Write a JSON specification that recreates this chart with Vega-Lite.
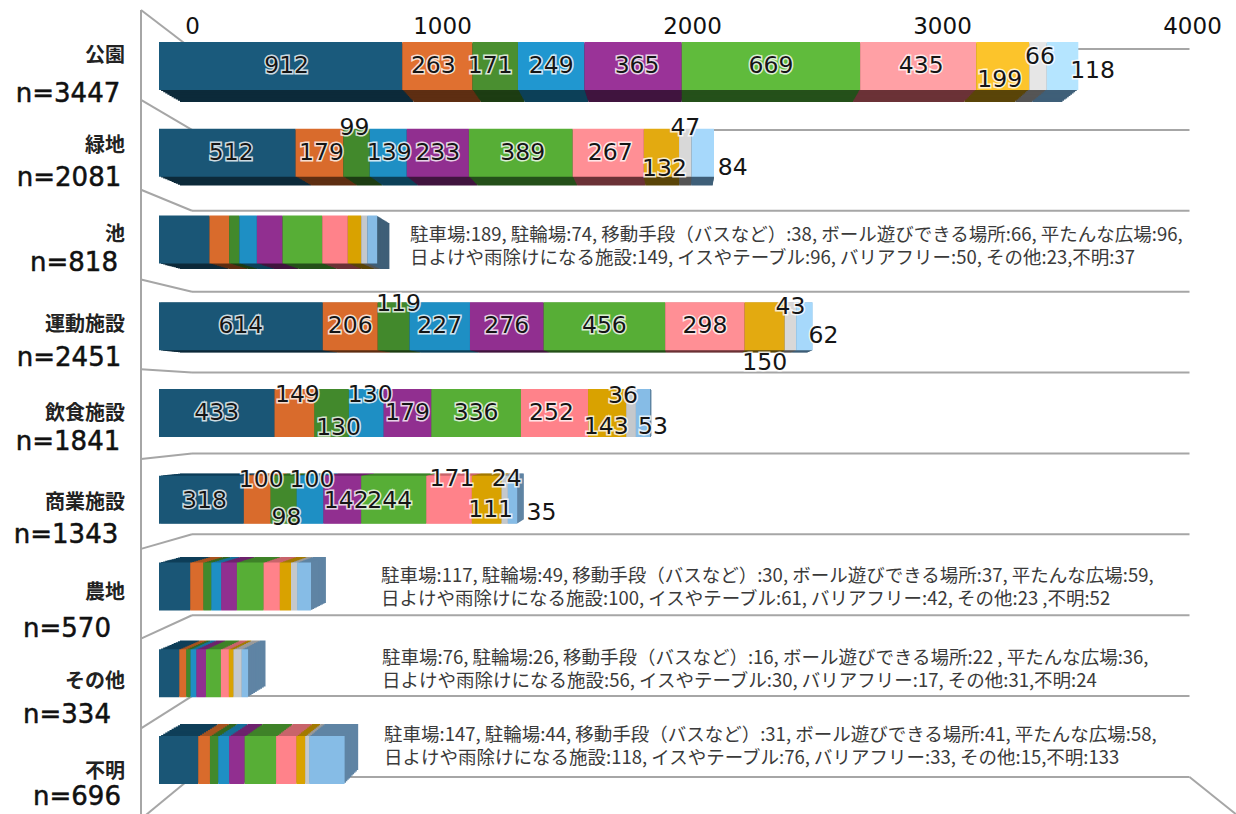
{"$schema":"https://vega.github.io/schema/vega-lite/v6.json","width":1236,"height":814,"autosize":"none","padding":0,"background":"white","view":{"stroke":null},
"datasets":{
"bars":[
{"r":0,"place":"公園","k":0,"item":"駐車場","value":912},{"r":0,"place":"公園","k":1,"item":"駐輪場","value":263},{"r":0,"place":"公園","k":2,"item":"移動手段（バスなど）","value":171},{"r":0,"place":"公園","k":3,"item":"ボール遊びできる場所","value":249},{"r":0,"place":"公園","k":4,"item":"平たんな広場","value":365},{"r":0,"place":"公園","k":5,"item":"日よけや雨除けになる施設","value":669},{"r":0,"place":"公園","k":6,"item":"イスやテーブル","value":435},{"r":0,"place":"公園","k":7,"item":"バリアフリー","value":199},{"r":0,"place":"公園","k":8,"item":"その他","value":66},{"r":0,"place":"公園","k":9,"item":"不明","value":118},
{"r":1,"place":"緑地","k":0,"item":"駐車場","value":512},{"r":1,"place":"緑地","k":1,"item":"駐輪場","value":179},{"r":1,"place":"緑地","k":2,"item":"移動手段（バスなど）","value":99},{"r":1,"place":"緑地","k":3,"item":"ボール遊びできる場所","value":139},{"r":1,"place":"緑地","k":4,"item":"平たんな広場","value":233},{"r":1,"place":"緑地","k":5,"item":"日よけや雨除けになる施設","value":389},{"r":1,"place":"緑地","k":6,"item":"イスやテーブル","value":267},{"r":1,"place":"緑地","k":7,"item":"バリアフリー","value":132},{"r":1,"place":"緑地","k":8,"item":"その他","value":47},{"r":1,"place":"緑地","k":9,"item":"不明","value":84},
{"r":2,"place":"池","k":0,"item":"駐車場","value":189},{"r":2,"place":"池","k":1,"item":"駐輪場","value":74},{"r":2,"place":"池","k":2,"item":"移動手段（バスなど）","value":38},{"r":2,"place":"池","k":3,"item":"ボール遊びできる場所","value":66},{"r":2,"place":"池","k":4,"item":"平たんな広場","value":96},{"r":2,"place":"池","k":5,"item":"日よけや雨除けになる施設","value":149},{"r":2,"place":"池","k":6,"item":"イスやテーブル","value":96},{"r":2,"place":"池","k":7,"item":"バリアフリー","value":50},{"r":2,"place":"池","k":8,"item":"その他","value":23},{"r":2,"place":"池","k":9,"item":"不明","value":37},
{"r":3,"place":"運動施設","k":0,"item":"駐車場","value":614},{"r":3,"place":"運動施設","k":1,"item":"駐輪場","value":206},{"r":3,"place":"運動施設","k":2,"item":"移動手段（バスなど）","value":119},{"r":3,"place":"運動施設","k":3,"item":"ボール遊びできる場所","value":227},{"r":3,"place":"運動施設","k":4,"item":"平たんな広場","value":276},{"r":3,"place":"運動施設","k":5,"item":"日よけや雨除けになる施設","value":456},{"r":3,"place":"運動施設","k":6,"item":"イスやテーブル","value":298},{"r":3,"place":"運動施設","k":7,"item":"バリアフリー","value":150},{"r":3,"place":"運動施設","k":8,"item":"その他","value":43},{"r":3,"place":"運動施設","k":9,"item":"不明","value":62},
{"r":4,"place":"飲食施設","k":0,"item":"駐車場","value":433},{"r":4,"place":"飲食施設","k":1,"item":"駐輪場","value":149},{"r":4,"place":"飲食施設","k":2,"item":"移動手段（バスなど）","value":130},{"r":4,"place":"飲食施設","k":3,"item":"ボール遊びできる場所","value":130},{"r":4,"place":"飲食施設","k":4,"item":"平たんな広場","value":179},{"r":4,"place":"飲食施設","k":5,"item":"日よけや雨除けになる施設","value":336},{"r":4,"place":"飲食施設","k":6,"item":"イスやテーブル","value":252},{"r":4,"place":"飲食施設","k":7,"item":"バリアフリー","value":143},{"r":4,"place":"飲食施設","k":8,"item":"その他","value":36},{"r":4,"place":"飲食施設","k":9,"item":"不明","value":53},
{"r":5,"place":"商業施設","k":0,"item":"駐車場","value":318},{"r":5,"place":"商業施設","k":1,"item":"駐輪場","value":100},{"r":5,"place":"商業施設","k":2,"item":"移動手段（バスなど）","value":98},{"r":5,"place":"商業施設","k":3,"item":"ボール遊びできる場所","value":100},{"r":5,"place":"商業施設","k":4,"item":"平たんな広場","value":142},{"r":5,"place":"商業施設","k":5,"item":"日よけや雨除けになる施設","value":244},{"r":5,"place":"商業施設","k":6,"item":"イスやテーブル","value":171},{"r":5,"place":"商業施設","k":7,"item":"バリアフリー","value":111},{"r":5,"place":"商業施設","k":8,"item":"その他","value":24},{"r":5,"place":"商業施設","k":9,"item":"不明","value":35},
{"r":6,"place":"農地","k":0,"item":"駐車場","value":117},{"r":6,"place":"農地","k":1,"item":"駐輪場","value":49},{"r":6,"place":"農地","k":2,"item":"移動手段（バスなど）","value":30},{"r":6,"place":"農地","k":3,"item":"ボール遊びできる場所","value":37},{"r":6,"place":"農地","k":4,"item":"平たんな広場","value":59},{"r":6,"place":"農地","k":5,"item":"日よけや雨除けになる施設","value":100},{"r":6,"place":"農地","k":6,"item":"イスやテーブル","value":61},{"r":6,"place":"農地","k":7,"item":"バリアフリー","value":42},{"r":6,"place":"農地","k":8,"item":"その他","value":23},{"r":6,"place":"農地","k":9,"item":"不明","value":52},
{"r":7,"place":"その他","k":0,"item":"駐車場","value":76},{"r":7,"place":"その他","k":1,"item":"駐輪場","value":26},{"r":7,"place":"その他","k":2,"item":"移動手段（バスなど）","value":16},{"r":7,"place":"その他","k":3,"item":"ボール遊びできる場所","value":22},{"r":7,"place":"その他","k":4,"item":"平たんな広場","value":36},{"r":7,"place":"その他","k":5,"item":"日よけや雨除けになる施設","value":56},{"r":7,"place":"その他","k":6,"item":"イスやテーブル","value":30},{"r":7,"place":"その他","k":7,"item":"バリアフリー","value":17},{"r":7,"place":"その他","k":8,"item":"その他","value":31},{"r":7,"place":"その他","k":9,"item":"不明","value":24},
{"r":8,"place":"不明","k":0,"item":"駐車場","value":147},{"r":8,"place":"不明","k":1,"item":"駐輪場","value":44},{"r":8,"place":"不明","k":2,"item":"移動手段（バスなど）","value":31},{"r":8,"place":"不明","k":3,"item":"ボール遊びできる場所","value":41},{"r":8,"place":"不明","k":4,"item":"平たんな広場","value":58},{"r":8,"place":"不明","k":5,"item":"日よけや雨除けになる施設","value":118},{"r":8,"place":"不明","k":6,"item":"イスやテーブル","value":76},{"r":8,"place":"不明","k":7,"item":"バリアフリー","value":33},{"r":8,"place":"不明","k":8,"item":"その他","value":15},{"r":8,"place":"不明","k":9,"item":"不明","value":133}
],
"places":[{"r":0,"place":"公園","n":"n=3447"},{"r":1,"place":"緑地","n":"n=2081"},{"r":2,"place":"池","n":"n=818"},{"r":3,"place":"運動施設","n":"n=2451"},{"r":4,"place":"飲食施設","n":"n=1841"},{"r":5,"place":"商業施設","n":"n=1343"},{"r":6,"place":"農地","n":"n=570"},{"r":7,"place":"その他","n":"n=334"},{"r":8,"place":"不明","n":"n=696"}],
"grid":[{"level":0,"wall":-0.482},{"level":1,"wall":0.63},{"level":2,"wall":1.74},{"level":3,"wall":2.85},{"level":4,"wall":3.96},{"level":5,"wall":5.07},{"level":6,"wall":6.18},{"level":7,"wall":7.29},{"level":8,"wall":8.4},{"level":9,"wall":9.52}],
"notes":[
{"r":2,"note":"駐車場:189, 駐輪場:74, 移動手段（バスなど）:38, ボール遊びできる場所:66, 平たんな広場:96,\n日よけや雨除けになる施設:149, イスやテーブル:96, バリアフリー:50, その他:23,不明:37"},
{"r":6,"note":"駐車場:117, 駐輪場:49, 移動手段（バスなど）:30, ボール遊びできる場所:37, 平たんな広場:59,\n日よけや雨除けになる施設:100, イスやテーブル:61, バリアフリー:42, その他:23 ,不明:52"},
{"r":7,"note":"駐車場:76, 駐輪場:26, 移動手段（バスなど）:16, ボール遊びできる場所:22 , 平たんな広場:36,\n日よけや雨除けになる施設:56, イスやテーブル:30, バリアフリー:17, その他:31,不明:24"},
{"r":8,"note":"駐車場:147, 駐輪場:44, 移動手段（バスなど）:31, ボール遊びできる場所:41, 平たんな広場:58,\n日よけや雨除けになる施設:118, イスやテーブル:76, バリアフリー:33, その他:15,不明:133"}
]},
"resolve":{"scale":{"x":"independent","y":"independent","color":"independent"}},
"layer":[
{"data":{"name":"grid"},"mark":{"type":"rule","color":"#a6a6a6","strokeWidth":2},
 "encoding":{"x":{"datum":0,"type":"quantitative","scale":{"domain":[-768,4176],"range":[0,1236]},"axis":{"orient":"top","values":[0,1000,2000,3000,4000],"offset":-38,"ticks":false,"domain":false,"grid":false,"title":null,"labelPadding":0,"labelFontSize":23,"labelFont":"DejaVu Sans","labelColor":"#111","labelFlush":false,"labelBound":false,"labelOverlap":false,"format":"d"}},"x2":{"datum":3990},"y":{"field":"level","type":"quantitative","scale":{"domain":[0,9],"range":[49,777],"zero":false,"nice":false},"axis":null}}},
{"data":{"name":"grid"},"mark":{"type":"rule","color":"#a6a6a6","strokeWidth":2},
 "encoding":{"x":{"datum":0,"type":"quantitative","scale":{"domain":[-768,4176],"range":[0,1236]},"axis":null},"x2":{"datum":-204},"y":{"field":"level","type":"quantitative","scale":{"domain":[0,9],"range":[49,777],"zero":false,"nice":false},"axis":null},"y2":{"field":"wall"}}},
{"data":{"values":[{"a":-0.482,"b":9.52}]},"mark":{"type":"rule","color":"#a6a6a6","strokeWidth":2},
 "encoding":{"x":{"datum":-204,"type":"quantitative","scale":{"domain":[-768,4176],"range":[0,1236]},"axis":null},"y":{"field":"a","type":"quantitative","scale":{"domain":[0,9],"range":[49,777],"zero":false,"nice":false},"axis":null},"y2":{"field":"b"}}},
{"data":{"values":[{"a":9,"b":9.46}]},"mark":{"type":"rule","color":"#a6a6a6","strokeWidth":2},
 "encoding":{"x":{"datum":3990,"type":"quantitative","scale":{"domain":[-768,4176],"range":[0,1236]},"axis":null},"x2":{"datum":4176},"y":{"field":"a","type":"quantitative","scale":{"domain":[0,9],"range":[49,777],"zero":false,"nice":false},"axis":null},"y2":{"field":"b"}}},
{"data":{"name":"bars"},"transform":[{"filter":"datum.r<4"}],"resolve":{"scale":{"x":"independent","y":"independent"}},
 "encoding":{"order":{"field":"k"},"color":{"field":"k","type":"nominal","legend":null,"scale":{"range":["#0c2a3a","#5e2e12","#1d3d13","#0c4058","#40143f","#25501a","#6b3237","#5a4508","#555555","#3f5f78"]}}},
 "layer":[
 {"mark":{"type":"bar","height":46},"encoding":{"x":{"field":"value","type":"quantitative","stack":"zero","axis":null,"scale":{"domain":[0,4000],"range":[180,1204]}},"y":{"field":"r","type":"ordinal","axis":null,"scale":{"domain":[0,1,2,3,4,5,6,7,8],"range":[37.25,788.75],"paddingInner":0,"paddingOuter":0}}}},
 {"mark":{"type":"bar","height":46.2},"encoding":{"x":{"field":"value","type":"quantitative","stack":"zero","axis":null,"scale":{"domain":[0,4000],"range":[177.9,1206.2]}},"y":{"field":"r","type":"ordinal","axis":null,"scale":{"domain":[0,1,2,3,4,5,6,7,8],"range":[35.8,790.2],"paddingInner":0,"paddingOuter":0}}}},
 {"mark":{"type":"bar","height":46.4},"encoding":{"x":{"field":"value","type":"quantitative","stack":"zero","axis":null,"scale":{"domain":[0,4000],"range":[175.8,1208.4]}},"y":{"field":"r","type":"ordinal","axis":null,"scale":{"domain":[0,1,2,3,4,5,6,7,8],"range":[34.3,791.7],"paddingInner":0,"paddingOuter":0}}}},
 {"mark":{"type":"bar","height":46.6},"encoding":{"x":{"field":"value","type":"quantitative","stack":"zero","axis":null,"scale":{"domain":[0,4000],"range":[173.7,1210.5]}},"y":{"field":"r","type":"ordinal","axis":null,"scale":{"domain":[0,1,2,3,4,5,6,7,8],"range":[32.9,793.1],"paddingInner":0,"paddingOuter":0}}}},
 {"mark":{"type":"bar","height":46.8},"encoding":{"x":{"field":"value","type":"quantitative","stack":"zero","axis":null,"scale":{"domain":[0,4000],"range":[171.6,1212.7]}},"y":{"field":"r","type":"ordinal","axis":null,"scale":{"domain":[0,1,2,3,4,5,6,7,8],"range":[31.4,794.6],"paddingInner":0,"paddingOuter":0}}}},
 {"mark":{"type":"bar","height":47},"encoding":{"x":{"field":"value","type":"quantitative","stack":"zero","axis":null,"scale":{"domain":[0,4000],"range":[169.5,1214.9]}},"y":{"field":"r","type":"ordinal","axis":null,"scale":{"domain":[0,1,2,3,4,5,6,7,8],"range":[29.9,796.1],"paddingInner":0,"paddingOuter":0}}}},
 {"mark":{"type":"bar","height":47.2},"encoding":{"x":{"field":"value","type":"quantitative","stack":"zero","axis":null,"scale":{"domain":[0,4000],"range":[167.4,1217.1]}},"y":{"field":"r","type":"ordinal","axis":null,"scale":{"domain":[0,1,2,3,4,5,6,7,8],"range":[28.5,797.5],"paddingInner":0,"paddingOuter":0}}}},
 {"mark":{"type":"bar","height":47.4},"encoding":{"x":{"field":"value","type":"quantitative","stack":"zero","axis":null,"scale":{"domain":[0,4000],"range":[165.3,1219.3]}},"y":{"field":"r","type":"ordinal","axis":null,"scale":{"domain":[0,1,2,3,4,5,6,7,8],"range":[27,799],"paddingInner":0,"paddingOuter":0}}}},
 {"mark":{"type":"bar","height":47.6},"encoding":{"x":{"field":"value","type":"quantitative","stack":"zero","axis":null,"scale":{"domain":[0,4000],"range":[163.2,1221.4]}},"y":{"field":"r","type":"ordinal","axis":null,"scale":{"domain":[0,1,2,3,4,5,6,7,8],"range":[25.5,800.5],"paddingInner":0,"paddingOuter":0}}}},
 {"mark":{"type":"bar","height":47.8},"encoding":{"x":{"field":"value","type":"quantitative","stack":"zero","axis":null,"scale":{"domain":[0,4000],"range":[161.1,1223.6]}},"y":{"field":"r","type":"ordinal","axis":null,"scale":{"domain":[0,1,2,3,4,5,6,7,8],"range":[24,802],"paddingInner":0,"paddingOuter":0}}}}
 ]},
{"data":{"name":"bars"},"transform":[{"filter":"datum.r>=4"}],"resolve":{"scale":{"x":"independent","y":"independent"}},
 "encoding":{"order":{"field":"k"},"color":{"field":"k","type":"nominal","legend":null,"scale":{"range":["#0f3f58","#a8531f","#33681f","#16709a","#6d236d","#3f8228","#c8646b","#a37a00","#9a9a9a","#5f84a4"]}}},
 "layer":[
 {"mark":{"type":"bar","height":46},"encoding":{"x":{"field":"value","type":"quantitative","stack":"zero","axis":null,"scale":{"domain":[0,4000],"range":[180,1204]}},"y":{"field":"r","type":"ordinal","axis":null,"scale":{"domain":[0,1,2,3,4,5,6,7,8],"range":[37.25,788.75],"paddingInner":0,"paddingOuter":0}}}},
 {"mark":{"type":"bar","height":46.2},"encoding":{"x":{"field":"value","type":"quantitative","stack":"zero","axis":null,"scale":{"domain":[0,4000],"range":[177.9,1206.2]}},"y":{"field":"r","type":"ordinal","axis":null,"scale":{"domain":[0,1,2,3,4,5,6,7,8],"range":[35.8,790.2],"paddingInner":0,"paddingOuter":0}}}},
 {"mark":{"type":"bar","height":46.4},"encoding":{"x":{"field":"value","type":"quantitative","stack":"zero","axis":null,"scale":{"domain":[0,4000],"range":[175.8,1208.4]}},"y":{"field":"r","type":"ordinal","axis":null,"scale":{"domain":[0,1,2,3,4,5,6,7,8],"range":[34.3,791.7],"paddingInner":0,"paddingOuter":0}}}},
 {"mark":{"type":"bar","height":46.6},"encoding":{"x":{"field":"value","type":"quantitative","stack":"zero","axis":null,"scale":{"domain":[0,4000],"range":[173.7,1210.5]}},"y":{"field":"r","type":"ordinal","axis":null,"scale":{"domain":[0,1,2,3,4,5,6,7,8],"range":[32.9,793.1],"paddingInner":0,"paddingOuter":0}}}},
 {"mark":{"type":"bar","height":46.8},"encoding":{"x":{"field":"value","type":"quantitative","stack":"zero","axis":null,"scale":{"domain":[0,4000],"range":[171.6,1212.7]}},"y":{"field":"r","type":"ordinal","axis":null,"scale":{"domain":[0,1,2,3,4,5,6,7,8],"range":[31.4,794.6],"paddingInner":0,"paddingOuter":0}}}},
 {"mark":{"type":"bar","height":47},"encoding":{"x":{"field":"value","type":"quantitative","stack":"zero","axis":null,"scale":{"domain":[0,4000],"range":[169.5,1214.9]}},"y":{"field":"r","type":"ordinal","axis":null,"scale":{"domain":[0,1,2,3,4,5,6,7,8],"range":[29.9,796.1],"paddingInner":0,"paddingOuter":0}}}},
 {"mark":{"type":"bar","height":47.2},"encoding":{"x":{"field":"value","type":"quantitative","stack":"zero","axis":null,"scale":{"domain":[0,4000],"range":[167.4,1217.1]}},"y":{"field":"r","type":"ordinal","axis":null,"scale":{"domain":[0,1,2,3,4,5,6,7,8],"range":[28.5,797.5],"paddingInner":0,"paddingOuter":0}}}},
 {"mark":{"type":"bar","height":47.4},"encoding":{"x":{"field":"value","type":"quantitative","stack":"zero","axis":null,"scale":{"domain":[0,4000],"range":[165.3,1219.3]}},"y":{"field":"r","type":"ordinal","axis":null,"scale":{"domain":[0,1,2,3,4,5,6,7,8],"range":[27,799],"paddingInner":0,"paddingOuter":0}}}},
 {"mark":{"type":"bar","height":47.6},"encoding":{"x":{"field":"value","type":"quantitative","stack":"zero","axis":null,"scale":{"domain":[0,4000],"range":[163.2,1221.4]}},"y":{"field":"r","type":"ordinal","axis":null,"scale":{"domain":[0,1,2,3,4,5,6,7,8],"range":[25.5,800.5],"paddingInner":0,"paddingOuter":0}}}},
 {"mark":{"type":"bar","height":47.8},"encoding":{"x":{"field":"value","type":"quantitative","stack":"zero","axis":null,"scale":{"domain":[0,4000],"range":[161.1,1223.6]}},"y":{"field":"r","type":"ordinal","axis":null,"scale":{"domain":[0,1,2,3,4,5,6,7,8],"range":[24,802],"paddingInner":0,"paddingOuter":0}}}}
 ]},
{"data":{"name":"bars"},"transform":[{"filter":"datum.r==0"}],"mark":{"type":"bar","height":48},"encoding":{"order":{"field":"k"},"color":{"field":"k","type":"nominal","legend":null,"scale":{"range":["#1a5a7c","#e07030","#4a8f30","#2097d0","#9a3398","#60bb3c","#ffa0a5","#fcc42b","#e6e6e6","#b5e5ff"]}},"x":{"field":"value","type":"quantitative","stack":"zero","axis":null,"scale":{"domain":[0,4000],"range":[159,1225.8]}},"y":{"field":"r","type":"ordinal","axis":null,"scale":{"domain":[0,1,2,3,4,5,6,7,8],"range":[22.6,803.4],"paddingInner":0,"paddingOuter":0}}}},
{"data":{"name":"bars"},"transform":[{"filter":"datum.r==1||datum.r==3"}],"mark":{"type":"bar","height":48},"encoding":{"order":{"field":"k"},"color":{"field":"k","type":"nominal","legend":null,"scale":{"range":["#1a5676","#d96b2c","#42892c","#1e8fc4","#912f90","#57ae36","#ff8f95","#e3aa10","#d8d8d8","#a6d8fb"]}},"x":{"field":"value","type":"quantitative","stack":"zero","axis":null,"scale":{"domain":[0,4000],"range":[159,1225.8]}},"y":{"field":"r","type":"ordinal","axis":null,"scale":{"domain":[0,1,2,3,4,5,6,7,8],"range":[22.6,803.4],"paddingInner":0,"paddingOuter":0}}}},
{"data":{"name":"bars"},"transform":[{"filter":"datum.r==2||datum.r>3"}],"mark":{"type":"bar","height":48},"encoding":{"order":{"field":"k"},"color":{"field":"k","type":"nominal","legend":null,"scale":{"range":["#1a5676","#d96b2c","#42892c","#1e8fc4","#912f90","#57ae36","#ff828a","#d9a200","#c4c8cc","#86bce6"]}},"x":{"field":"value","type":"quantitative","stack":"zero","axis":null,"scale":{"domain":[0,4000],"range":[159,1225.8]}},"y":{"field":"r","type":"ordinal","axis":null,"scale":{"domain":[0,1,2,3,4,5,6,7,8],"range":[22.6,803.4],"paddingInner":0,"paddingOuter":0}}}},
{"data":{"name":"bars"},"transform":[{"filter":"datum.r==0||datum.r==1||datum.r==3||datum.r==4||datum.r==5"}],
 "mark":{"type":"text","font":"DejaVu Sans","fontSize":23.5,"fill":"white","stroke":"white","strokeWidth":3,"strokeOpacity":0.8,"baseline":"middle","dx":{"expr":"({'公園0':6,'公園1':-4,'公園2':-5,'公園4':4,'公園6':3,'公園7':-3,'公園8':2,'公園9':30,'緑地0':4,'緑地1':2,'緑地2':-2,'緑地3':1,'緑地5':2,'緑地6':2,'緑地7':3,'緑地9':30,'運動施設2':5,'運動施設9':19,'飲食施設1':3,'飲食施設2':7,'飲食施設3':4,'飲食施設6':-3,'飲食施設7':-1,'飲食施設8':-8,'飲食施設9':10,'商業施設0':3,'商業施設1':4,'商業施設2':3,'商業施設3':2,'商業施設4':4,'商業施設5':-4,'商業施設6':3,'商業施設7':4,'商業施設8':2,'商業施設9':29})[datum.place+datum.k]||0"},"dy":{"expr":"({'公園7':14,'公園8':-9,'公園9':5,'緑地2':-25,'緑地7':16,'緑地8':-25,'緑地9':15,'運動施設2':-22,'運動施設7':37,'運動施設8':-19,'運動施設9':10,'飲食施設1':-18,'飲食施設2':15,'飲食施設3':-18,'飲食施設7':14,'飲食施設8':-17,'飲食施設9':14,'商業施設0':1,'商業施設1':-20,'商業施設2':18,'商業施設3':-20,'商業施設4':1,'商業施設5':1,'商業施設6':-21,'商業施設7':10,'商業施設8':-21,'商業施設9':13})[datum.place+datum.k]||0"}},
 "encoding":{"order":{"field":"k"},"detail":{"field":"k"},"text":{"field":"value","type":"quantitative"},"x":{"field":"value","type":"quantitative","stack":"zero","bandPosition":0.5,"axis":null,"scale":{"domain":[0,4000],"range":[159,1225.8]}},"y":{"field":"r","type":"ordinal","axis":null,"scale":{"domain":[0,1,2,3,4,5,6,7,8],"range":[22.6,803.4],"paddingInner":0,"paddingOuter":0}}}},
{"data":{"name":"bars"},"transform":[{"filter":"datum.r==0||datum.r==1||datum.r==3||datum.r==4||datum.r==5"}],
 "mark":{"type":"text","font":"DejaVu Sans","fontSize":23.5,"fill":"#151515","baseline":"middle","dx":{"expr":"({'公園0':6,'公園1':-4,'公園2':-5,'公園4':4,'公園6':3,'公園7':-3,'公園8':2,'公園9':30,'緑地0':4,'緑地1':2,'緑地2':-2,'緑地3':1,'緑地5':2,'緑地6':2,'緑地7':3,'緑地9':30,'運動施設2':5,'運動施設9':19,'飲食施設1':3,'飲食施設2':7,'飲食施設3':4,'飲食施設6':-3,'飲食施設7':-1,'飲食施設8':-8,'飲食施設9':10,'商業施設0':3,'商業施設1':4,'商業施設2':3,'商業施設3':2,'商業施設4':4,'商業施設5':-4,'商業施設6':3,'商業施設7':4,'商業施設8':2,'商業施設9':29})[datum.place+datum.k]||0"},"dy":{"expr":"({'公園7':14,'公園8':-9,'公園9':5,'緑地2':-25,'緑地7':16,'緑地8':-25,'緑地9':15,'運動施設2':-22,'運動施設7':37,'運動施設8':-19,'運動施設9':10,'飲食施設1':-18,'飲食施設2':15,'飲食施設3':-18,'飲食施設7':14,'飲食施設8':-17,'飲食施設9':14,'商業施設0':1,'商業施設1':-20,'商業施設2':18,'商業施設3':-20,'商業施設4':1,'商業施設5':1,'商業施設6':-21,'商業施設7':10,'商業施設8':-21,'商業施設9':13})[datum.place+datum.k]||0"}},
 "encoding":{"order":{"field":"k"},"detail":{"field":"k"},"text":{"field":"value","type":"quantitative"},"x":{"field":"value","type":"quantitative","stack":"zero","bandPosition":0.5,"axis":null,"scale":{"domain":[0,4000],"range":[159,1225.8]}},"y":{"field":"r","type":"ordinal","axis":null,"scale":{"domain":[0,1,2,3,4,5,6,7,8],"range":[22.6,803.4],"paddingInner":0,"paddingOuter":0}}}},
{"data":{"name":"places"},"mark":{"type":"text","font":"Noto Sans CJK JP","fontWeight":"bold","fontSize":20,"color":"#222","align":"right","baseline":"middle","dx":-34},
 "encoding":{"text":{"field":"place"},"x":{"datum":0,"type":"quantitative","axis":null,"scale":{"domain":[0,4000],"range":[159,1225.8]}},"y":{"field":"r","type":"ordinal","axis":null,"scale":{"domain":[0,1,2,3,4,5,6,7,8],"range":[11.8,816.2],"paddingInner":0,"paddingOuter":0}}}},
{"data":{"name":"places"},"mark":{"type":"text","font":"DejaVu Sans","fontSize":26,"color":"#111","stroke":"#111","strokeWidth":0.5,"align":"center","baseline":"middle","dx":{"expr":"[-91,-90,-85,-90,-91,-93,-92,-92,-82][datum.r]"},"dy":{"expr":"[1,-3,-6,1,-3,3,9,7,1][datum.r]"}},
 "encoding":{"text":{"field":"n"},"x":{"datum":0,"type":"quantitative","axis":null,"scale":{"domain":[0,4000],"range":[159,1225.8]}},"y":{"field":"r","type":"ordinal","axis":null,"scale":{"domain":[0,1,2,3,4,5,6,7,8],"range":[49.06,839.94],"paddingInner":0,"paddingOuter":0}}}},
{"data":{"name":"notes"},"mark":{"type":"text","font":"Noto Sans CJK JP","fontSize":18.5,"color":"#3a3a3a","align":"left","baseline":"middle","lineBreak":"\n","lineHeight":23,"dx":{"expr":"({2:251,6:222,7:223,8:225})[datum.r]"},"dy":{"expr":"({2:-4,6:-11,7:-15,8:-25})[datum.r]"}},
 "encoding":{"text":{"field":"note"},"x":{"datum":0,"type":"quantitative","axis":null,"scale":{"domain":[0,4000],"range":[159,1225.8]}},"y":{"field":"r","type":"ordinal","axis":null,"scale":{"domain":[0,1,2,3,4,5,6,7,8],"range":[22.6,803.4],"paddingInner":0,"paddingOuter":0}}}}
]}
